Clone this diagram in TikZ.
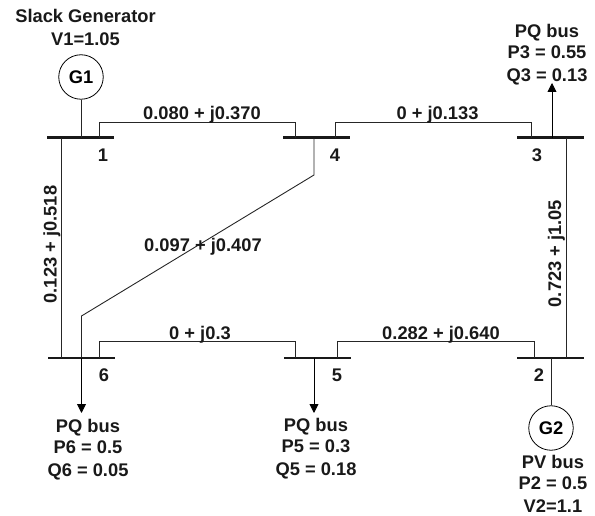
\documentclass[tikz,border=0pt]{standalone}
\usepackage{fontspec}
\setmainfont{Liberation Sans}
\usetikzlibrary{arrows.meta}
\tikzset{
  lbl/.style={font=\fontsize{18.3}{20}\selectfont\bfseries,inner sep=0pt,text=black!90,anchor=base},
  busbar/.style={fill=black!90,minimum width=67pt,minimum height=2.4pt,inner sep=0pt,outer sep=0pt},
  gen/.style={circle,draw=black,line width=0.8pt,minimum size=44.5pt,inner sep=0pt,font=\fontsize{18.3}{20}\selectfont\bfseries},
  wire/.style={line width=0.9pt,draw=black!85},
  flow/.style={line width=0.9pt,draw=black,-{Triangle[length=9pt,width=9pt]}}
}
\begin{document}
\begin{tikzpicture}[x=1pt,y=-1pt]
\useasboundingbox (0,0) rectangle (595,516);
\node[busbar] (b1) at (80.5,137.7) {};
\node[busbar] (b4) at (316.5,137.7) {};
\node[busbar] (b3) at (550,137.7) {};
\node[busbar] (b6) at (81.5,357.7) {};
\node[busbar] (b5) at (317.5,357.7) {};
\node[busbar] (b2) at (550,357.7) {};
\node[gen] (g1) at (81,77) {G1};
\node[gen] (g2) at (551,428) {G2};
\coordinate (a3) at (552,83);
\coordinate (a6) at (81.5,413);
\coordinate (a5) at (314,413);
\coordinate (k4) at (314,175);
\coordinate (k6) at (81.5,316);
% connectors
\draw[wire] (g1.south) -- (g1.south |- b1.center);
\draw[wire] (g2.north) -- (g2.north |- b2.center);
\draw[wire] ([xshift=18.5pt]b1.center) -- ++(0,-15) -| ([xshift=-21pt]b4.center);
\draw[wire] ([xshift=18.5pt]b4.center) -- ++(0,-15.5) -| ([xshift=-18.3pt]b3.center);
\draw[wire] ([xshift=17.5pt]b6.center) -- ++(0,-16.5) -| ([xshift=-22pt]b5.center);
\draw[wire] ([xshift=19.5pt]b5.center) -- ++(0,-16.5) -| ([xshift=-16pt]b2.center);
\draw[wire] (b1.center -| 61,0) -- (b6.center -| 61,0);
\draw[wire] (b3.center -| 566,0) -- (b2.center -| 566,0);
\draw[wire] (k4 |- b4.center) -- (k4) -- (k6) -- (k6 |- b6.center);
\draw[flow] (a3 |- b3.center) -- (a3);
\draw[flow] (a6 |- b6.center) -- (a6);
\draw[flow] (a5 |- b5.center) -- (a5);
% texts
\node[lbl] (t1) at (85.5,22.5) {Slack Generator};
\node[lbl] (t2) at (85.5,45.5) {V1=1.05};
\node[lbl] (n1) at (103,161.5) {1};
\node[lbl] (n4) at (335,161.5) {4};
\node[lbl] (n3) at (537,161.5) {3};
\node[lbl] (n6) at (104,381.5) {6};
\node[lbl] (n5) at (337,381.5) {5};
\node[lbl] (n2) at (539,381.5) {2};
\node[lbl] (l14) at (202,119.2) {0.080 + j0.370};
\node[lbl] (l43) at (437.5,119.5) {0 + j0.133};
\node[lbl] (l65) at (200,339.2) {0 + j0.3};
\node[lbl] (l52) at (441,339.2) {0.282 + j0.640};
\node[lbl] (l46) at (203,251.5) {0.097 + j0.407};
\node[lbl,rotate=90] (l16) at (56.5,244.5) {0.123 + j0.518};
\node[lbl,rotate=90] (l32) at (561,253.5) {0.723 + j1.05};
\node[lbl] (p3a) at (547,37.5) {PQ bus};
\node[lbl] (p3b) at (547,58.2) {P3 = 0.55};
\node[lbl] (p3c) at (547,81.5) {Q3 = 0.13};
\node[lbl] (p6a) at (88,432.5) {PQ bus};
\node[lbl] (p6b) at (88,453) {P6 = 0.5};
\node[lbl] (p6c) at (88,476.5) {Q6 = 0.05};
\node[lbl] (p5a) at (316,431.5) {PQ bus};
\node[lbl] (p5b) at (316,452.5) {P5 = 0.3};
\node[lbl] (p5c) at (316,475.5) {Q5 = 0.18};
\node[lbl] (p2a) at (553,468) {PV bus};
\node[lbl] (p2b) at (553,489) {P2 = 0.5};
\node[lbl] (p2c) at (553,512) {V2=1.1};
\end{tikzpicture}
\end{document}
